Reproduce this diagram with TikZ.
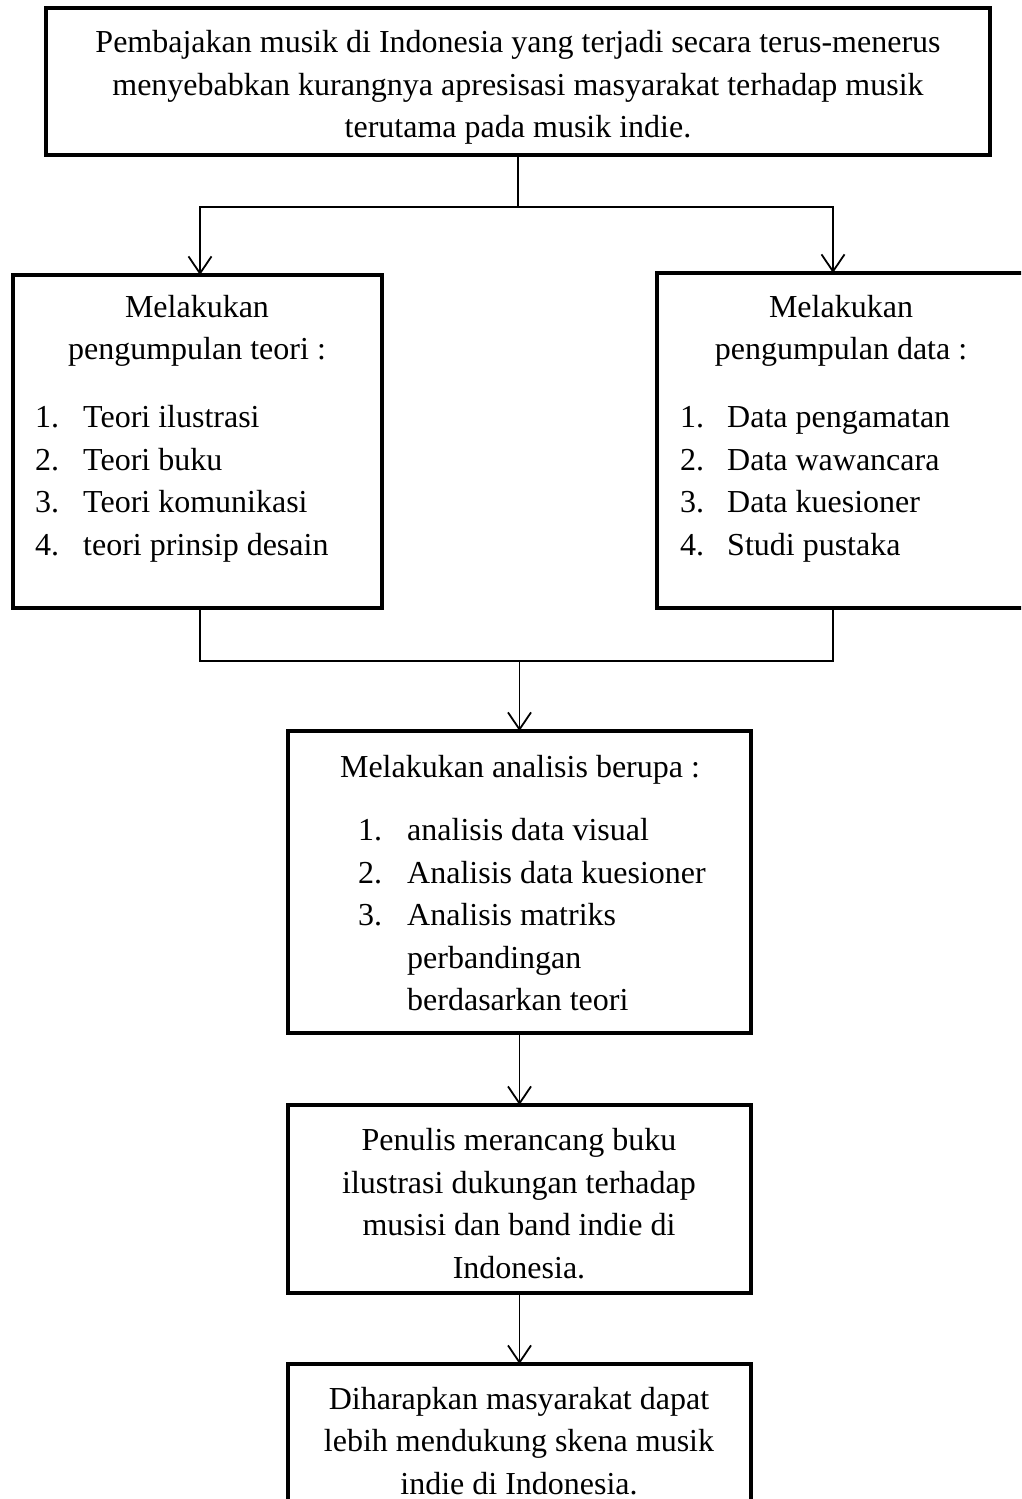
\documentclass[tikz,border=0pt]{standalone}
\usepackage{fontspec}
\setmainfont{Liberation Serif}
\usetikzlibrary{arrows.meta}
\begin{document}
\begin{tikzpicture}[x=1pt,y=-1pt,
  box/.style={draw=black,line width=3.2pt,fill=white,inner sep=0pt,outer sep=0pt,anchor=north west},
  txt/.style={anchor=base,inner sep=0pt,font=\fontsize{32}{42.5}\selectfont},
  ltxt/.style={anchor=base west,inner sep=0pt,font=\fontsize{32}{42.5}\selectfont},
  conn/.style={draw=black,line width=1.8pt},
  arr/.style={conn,-{Straight Barb[length=17pt,width=23pt,line width=1.8pt]}}
]
\useasboundingbox (0,0) rectangle (1021,1499);
\clip (0,0) rectangle (1021,1499);

% boxes
\node[box,minimum width=944pt,minimum height=147pt] (top) at (46,8) {};
\node[box,minimum width=369pt,minimum height=333pt] (left) at (13,275) {};
\node[box,minimum width=373pt,minimum height=335pt] (right) at (657,273) {};
\node[box,minimum width=463pt,minimum height=302pt] (mid) at (288,731) {};
\node[box,minimum width=463pt,minimum height=188pt] (design) at (288,1105) {};
\node[box,minimum width=463pt,minimum height=170pt] (hope) at (288,1364) {};

% top text
\node[txt] (t1) at (518,52) {Pembajakan musik di Indonesia yang terjadi secara terus-menerus};
\node[txt] (t2) at (518,95) {menyebabkan kurangnya apresisasi masyarakat terhadap musik};
\node[txt] (t3) at (518,137) {terutama pada musik indie.};

% left text
\node[txt] (l1) at (197,317) {Melakukan};
\node[txt] (l2) at (197,359) {pengumpulan teori :};
\node[ltxt] (ln1) at (35,427) {1.};
\node[ltxt] (li1) at (83,427) {Teori ilustrasi};
\node[ltxt] (ln2) at (35,470) {2.};
\node[ltxt] (li2) at (83,470) {Teori buku};
\node[ltxt] (ln3) at (35,512) {3.};
\node[ltxt] (li3) at (83,512) {Teori komunikasi};
\node[ltxt] (ln4) at (35,555) {4.};
\node[ltxt] (li4) at (83,555) {teori prinsip desain};

% right text
\node[txt] (r1) at (841,317) {Melakukan};
\node[txt] (r2) at (841,359) {pengumpulan data :};
\node[ltxt] (rn1) at (680,427) {1.};
\node[ltxt] (ri1) at (727,427) {Data pengamatan};
\node[ltxt] (rn2) at (680,470) {2.};
\node[ltxt] (ri2) at (727,470) {Data wawancara};
\node[ltxt] (rn3) at (680,512) {3.};
\node[ltxt] (ri3) at (727,512) {Data kuesioner};
\node[ltxt] (rn4) at (680,555) {4.};
\node[ltxt] (ri4) at (727,555) {Studi pustaka};

% middle text
\node[txt] (m0) at (520,777) {Melakukan analisis berupa :};
\node[ltxt] (mn1) at (358,840) {1.};
\node[ltxt] (mi1) at (407,840) {analisis data visual};
\node[ltxt] (mn2) at (358,883) {2.};
\node[ltxt] (mi2) at (407,883) {Analisis data kuesioner};
\node[ltxt] (mn3) at (358,925) {3.};
\node[ltxt] (mi3) at (407,925) {Analisis matriks};
\node[ltxt] (mi4) at (407,968) {perbandingan};
\node[ltxt] (mi5) at (407,1010) {berdasarkan teori};

% design text
\node[txt] (d1) at (519,1150) {Penulis merancang buku};
\node[txt] (d2) at (519,1193) {ilustrasi dukungan terhadap};
\node[txt] (d3) at (519,1235) {musisi dan band indie di};
\node[txt] (d4) at (519,1278) {Indonesia.};

% hope text
\node[txt] (h1) at (519,1409) {Diharapkan masyarakat dapat};
\node[txt] (h2) at (519,1451) {lebih mendukung skena musik};
\node[txt] (h3) at (519,1494) {indie di Indonesia.};

% connectors
\coordinate (split) at (518,207);
\coordinate (join) at (518,661);
\draw[conn] (top.south) -- (top.south |- split);
\draw[arr] (top.south |- split) -| ([xshift=2.5pt]left.north);
\draw[arr] (top.south |- split) -| ([xshift=-10.5pt]right.north);
\draw[conn] ([xshift=2.5pt]left.south) |- (join);
\draw[conn] ([xshift=-10.5pt]right.south) |- (join);
\draw[arr] (join) -- (join -| mid.north) -- (mid.north);
\draw[arr] (mid.south) -- (design.north);
\draw[arr] (design.south) -- (hope.north);
\end{tikzpicture}
\end{document}
